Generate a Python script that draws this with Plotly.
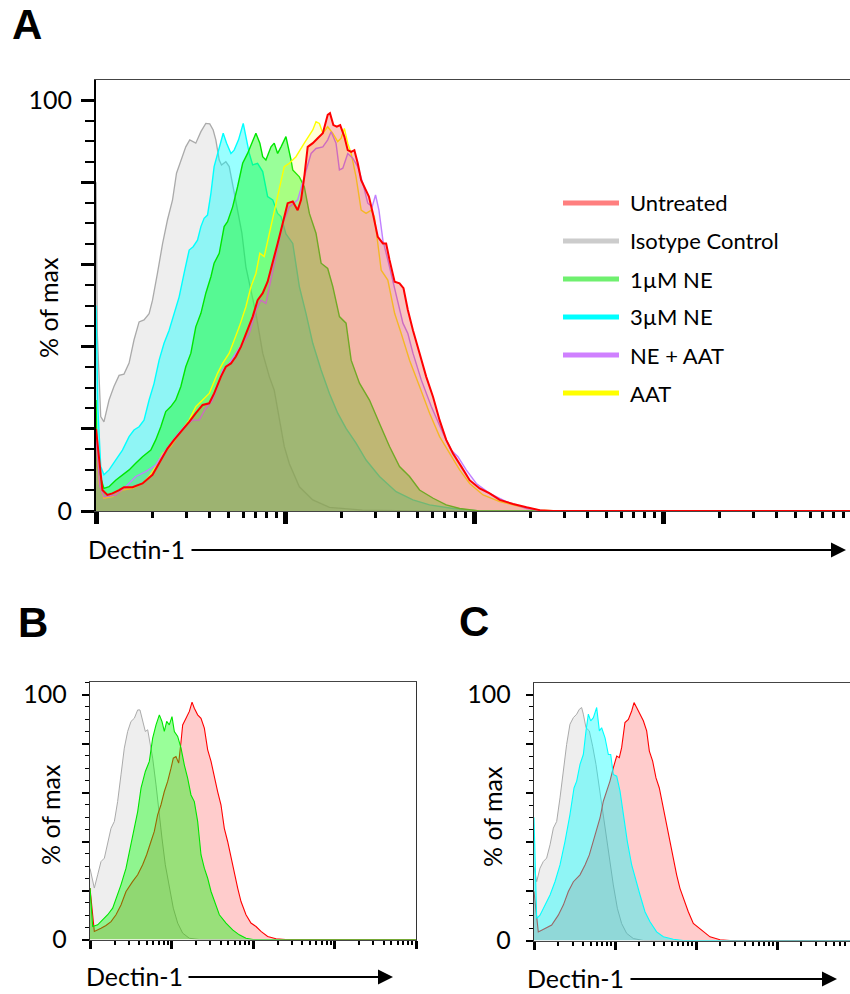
import numpy as np
import plotly.graph_objects as go

W, H = 850, 994
FONT = "Lato"

# Histograms: (decades above 10^1, % of max)
A_ISOTYPE = [(0, 80), (0.007, 43), (0.025, 23), (0.042, 21.7), (0.069, 27), (0.095, 30.3), (0.122, 33), (0.148, 33.3),
             (0.175, 36), (0.201, 41.6), (0.228, 46), (0.254, 46.5), (0.281, 48), (0.299, 51.3), (0.325, 57.8),
             (0.352, 65), (0.378, 70.8), (0.405, 75.7), (0.426, 82.2), (0.449, 85.4), (0.475, 88.6), (0.496, 90.3),
             (0.528, 89.5), (0.555, 92.3), (0.581, 94.3), (0.602, 94.2), (0.620, 92.7), (0.634, 90.3), (0.652, 85.4),
             (0.664, 84.2), (0.687, 85), (0.705, 83.8), (0.726, 78.9), (0.749, 73.2), (0.772, 67.6), (0.793, 59.4),
             (0.814, 54.6), (0.846, 48.1), (0.882, 38.4), (0.917, 32.7), (0.943, 29.4), (0.970, 22.1), (0.996, 15.7),
             (1.023, 11.5), (1.076, 5.9), (1.147, 2.7), (1.235, 0.9), (1.41, 0.2), (1.68, 0), (4, 0)]
A_NE3 = [(0, 50), (0.01, 25), (0.025, 10.8), (0.042, 8.8), (0.069, 10), (0.104, 12.4), (0.140, 14.8), (0.175, 18.1),
         (0.201, 19.7), (0.228, 20.5), (0.254, 22.1), (0.281, 27), (0.307, 31), (0.334, 36.7), (0.360, 40.8),
         (0.387, 44), (0.413, 48.1), (0.440, 52.1), (0.466, 57.8), (0.493, 63.5), (0.514, 64.3), (0.537, 65.9),
         (0.555, 69.2), (0.572, 71.2), (0.590, 72), (0.608, 77.3), (0.625, 83.8), (0.652, 88.6), (0.673, 91.9),
         (0.691, 89.5), (0.714, 87), (0.731, 87.8), (0.754, 90.3), (0.779, 94.3), (0.793, 91.1), (0.811, 87),
         (0.829, 84.2), (0.855, 84.6), (0.882, 82.6), (0.908, 76.5), (0.935, 75.7), (0.961, 72.4), (0.979, 71.6),
         (1.005, 67.4), (1.041, 65.1), (1.076, 54.6), (1.111, 48.1), (1.147, 40.8), (1.191, 34.3), (1.235, 28.6),
         (1.279, 23.8), (1.323, 20.1), (1.376, 16.5), (1.429, 12.4), (1.500, 8.4), (1.588, 4.7), (1.677, 2.7),
         (1.765, 1.5), (1.889, 0.6), (2.03, 0), (4, 0)]
A_NE1 = [(0, 27), (0.007, 10.8), (0.042, 5.5), (0.069, 5.9), (0.104, 7.5), (0.140, 8.8), (0.175, 10), (0.210, 11.6),
         (0.246, 13.2), (0.290, 14.8), (0.316, 17.3), (0.343, 20.5), (0.369, 24.2), (0.396, 25.4), (0.422, 27),
         (0.449, 30.3), (0.475, 35.1), (0.502, 38.4), (0.528, 44.8), (0.555, 48.1), (0.581, 53), (0.608, 57),
         (0.625, 60.3), (0.652, 62.7), (0.678, 69.2), (0.696, 70.4), (0.723, 74), (0.749, 78.9), (0.776, 84.6),
         (0.802, 87), (0.829, 89.9), (0.846, 91.9), (0.867, 89.5), (0.882, 86.2), (0.899, 85.4), (0.926, 88.6),
         (0.943, 89.5), (0.961, 87), (0.979, 88.6), (1.005, 91.1), (1.032, 85.4), (1.041, 83), (1.076, 81.3),
         (1.102, 78.9), (1.129, 72.4), (1.164, 67.6), (1.191, 60.3), (1.226, 59), (1.253, 54.6), (1.288, 47.3),
         (1.323, 45.7), (1.350, 36.7), (1.394, 31.1), (1.447, 27), (1.500, 21.3), (1.553, 15.7), (1.606, 10.8),
         (1.659, 8.4), (1.712, 5.1), (1.784, 3.1), (1.853, 1.5), (1.924, 0.6), (2.03, 0), (4, 0)]
A_AAT = [(0, 20), (0.016, 6.7), (0.042, 3.1), (0.087, 3.5), (0.140, 5.1), (0.193, 5.5), (0.246, 6.7), (0.281, 8.4),
         (0.316, 10.8), (0.352, 14), (0.396, 15.7), (0.440, 18.9), (0.493, 22.1), (0.528, 25.4), (0.564, 27),
         (0.599, 28.6), (0.643, 33.5), (0.670, 35.9), (0.705, 38.4), (0.731, 41.6), (0.758, 44.8), (0.793, 49.7),
         (0.820, 54.6), (0.846, 57.8), (0.867, 62.7), (0.890, 61.9), (0.917, 67.6), (0.943, 72.4), (0.970, 78.1),
         (0.996, 83.8), (1.023, 84.6), (1.058, 86.2), (1.102, 89.5), (1.147, 92.7), (1.164, 94.7), (1.182, 94.3),
         (1.200, 91.9), (1.226, 93.5), (1.253, 91.9), (1.279, 89.9), (1.297, 90.7), (1.314, 93.1), (1.332, 89.5),
         (1.350, 87), (1.376, 81.3), (1.403, 73.2), (1.429, 72.4), (1.456, 73.2), (1.473, 71.6), (1.491, 64.3),
         (1.509, 58.6), (1.544, 56.2), (1.580, 48.1), (1.615, 43.2), (1.659, 36.7), (1.712, 30.3), (1.765, 23.8),
         (1.818, 18.1), (1.871, 14), (1.924, 10), (1.977, 6.7), (2.048, 3.9), (2.136, 2.3), (2.242, 1.1),
         (2.348, 0.2), (2.45, 0), (4, 0)]
A_NE_AAT = [(0, 18), (0.02, 6), (0.042, 3.5), (0.104, 3.9), (0.157, 5.9), (0.210, 8.4), (0.263, 9.6), (0.316, 11.2),
            (0.369, 14.8), (0.422, 18.1), (0.466, 20.5), (0.511, 22.1), (0.546, 22.1), (0.581, 25), (0.617, 27),
            (0.643, 30.3), (0.670, 34.3), (0.705, 35.9), (0.740, 38.4), (0.776, 40.8), (0.811, 43.2), (0.846, 48.9),
            (0.873, 51.3), (0.899, 50.5), (0.926, 56.2), (0.961, 63.5), (0.988, 70), (1.023, 74), (1.067, 75.7),
            (1.102, 81.3), (1.138, 87), (1.164, 88.2), (1.200, 88.6), (1.226, 90.3), (1.244, 92.3), (1.270, 89.5),
            (1.288, 83), (1.306, 83.4), (1.332, 87), (1.359, 85.8), (1.385, 83.8), (1.412, 79.7), (1.438, 74.9),
            (1.461, 74), (1.479, 76.9), (1.497, 73.2), (1.518, 65.9), (1.544, 61.1), (1.571, 55.8), (1.597, 51.3),
            (1.624, 45.7), (1.650, 43.2), (1.677, 38.4), (1.721, 31.9), (1.774, 25.4), (1.836, 18.9), (1.880, 14.8),
            (1.915, 13.2), (1.959, 10), (2.012, 6.7), (2.083, 4.3), (2.171, 2.3), (2.278, 0.6), (2.38, 0), (4, 0)]
A_UNTREATED = [(0, 20), (0.034, 5.1), (0.060, 3.9), (0.087, 4.3), (0.122, 5.1), (0.148, 5.8), (0.193, 5.8),
               (0.246, 6.7), (0.299, 8.8), (0.334, 11.6), (0.378, 15.2), (0.413, 17.3), (0.458, 19.7), (0.493, 21.7),
               (0.528, 23.8), (0.564, 25.8), (0.599, 26.2), (0.625, 28.6), (0.661, 32.7), (0.687, 35.1),
               (0.714, 35.9), (0.740, 37.6), (0.767, 40), (0.793, 43.2), (0.829, 47.3), (0.855, 51.3), (0.882, 53),
               (0.908, 55.8), (0.935, 60.3), (0.961, 65.1), (0.988, 70), (1.014, 74.9), (1.041, 75.3), (1.067, 73.2),
               (1.085, 75.7), (1.102, 81.3), (1.120, 88.6), (1.147, 89.5), (1.173, 90.7), (1.200, 91.9),
               (1.226, 96.4), (1.238, 96.8), (1.256, 93.9), (1.274, 93.5), (1.292, 93.9), (1.314, 91.1),
               (1.332, 87.8), (1.350, 87.4), (1.367, 87.8), (1.385, 84.6), (1.403, 80.5), (1.426, 78.1),
               (1.444, 76.5), (1.465, 72.4), (1.491, 66.7), (1.518, 65.1), (1.535, 65.1), (1.553, 61.1),
               (1.580, 55.8), (1.606, 55.4), (1.627, 54.2), (1.650, 48.9), (1.677, 44), (1.712, 38.4), (1.747, 32.7),
               (1.783, 27.8), (1.818, 22.1), (1.853, 17.3), (1.889, 14), (1.933, 10.8), (1.977, 7.5), (2.030, 5.5),
               (2.083, 4.3), (2.136, 2.7), (2.207, 1.7), (2.278, 0.9), (2.348, 0.2), (2.42, 0), (4, 0)]

B_ISOTYPE = [(0, 29), (0.053, 21), (0.094, 26.4), (0.135, 31.8), (0.176, 33.2), (0.217, 40), (0.258, 45.4),
             (0.299, 48.2), (0.339, 56.3), (0.380, 67.2), (0.421, 78.1), (0.462, 84.9), (0.503, 89), (0.544, 90.3),
             (0.585, 93.7), (0.613, 93.7), (0.646, 89), (0.679, 84.9), (0.708, 85.6), (0.736, 80.8), (0.769, 74),
             (0.810, 63.1), (0.843, 52.2), (0.883, 41.4), (0.924, 30.5), (0.973, 21), (1.022, 12.8), (1.076, 6.7),
             (1.137, 2.6), (1.219, 0.5), (1.34, 0), (4, 0)]
B_NE1 = [(0, 21), (0.033, 5.3), (0.094, 6), (0.155, 8), (0.217, 10.1), (0.278, 12.8), (0.339, 18.2), (0.380, 22.3),
         (0.442, 29.1), (0.503, 38.6), (0.544, 45.4), (0.585, 52.2), (0.626, 61.8), (0.679, 68.6), (0.728, 72.7),
         (0.769, 82.2), (0.810, 87.6), (0.851, 91.7), (0.883, 89), (0.912, 84.9), (0.941, 89), (0.973, 87.6),
         (1.006, 91), (1.035, 84.9), (1.076, 82.9), (1.117, 78.1), (1.157, 71.3), (1.198, 65.9), (1.239, 59),
         (1.280, 56.3), (1.321, 48.2), (1.362, 34.6), (1.403, 29.1), (1.444, 25), (1.485, 19.6), (1.526, 15.5),
         (1.587, 10.1), (1.669, 6.7), (1.750, 3.9), (1.832, 1.9), (1.914, 0.5), (2.0, 0), (4, 0)]
B_UNTREATED = [(0, 21), (0.053, 3.3), (0.135, 4.6), (0.196, 5.7), (0.258, 7.3), (0.319, 10.1), (0.380, 14.1),
               (0.442, 19.6), (0.524, 23.7), (0.585, 26.4), (0.646, 30.5), (0.695, 34.6), (0.748, 40), (0.789, 44.1),
               (0.830, 50.9), (0.871, 55), (0.912, 60.4), (0.953, 64.5), (0.994, 69.9), (1.022, 74), (1.055, 74.7),
               (1.088, 72), (1.117, 80.8), (1.137, 87.6), (1.178, 90.3), (1.219, 93.1), (1.252, 96.9), (1.280, 94.4),
               (1.321, 91.7), (1.362, 90.3), (1.403, 86.3), (1.444, 77.4), (1.485, 72.7), (1.526, 65.9),
               (1.566, 60.4), (1.607, 55), (1.648, 45.4), (1.689, 40), (1.730, 33.2), (1.771, 26.4), (1.812, 21),
               (1.853, 15.5), (1.914, 10.1), (1.975, 6.7), (2.037, 5.3), (2.098, 3.3), (2.180, 1.2), (2.282, 0.3),
               (2.4, 0), (4, 0)]

C_ISOTYPE = [(0, 30), (0.033, 23.9), (0.074, 29.4), (0.115, 32.1), (0.156, 33.5), (0.198, 38.9), (0.239, 45.7),
             (0.280, 48.4), (0.321, 58), (0.362, 68.8), (0.403, 79.7), (0.444, 87.9), (0.486, 90.6), (0.527, 92),
             (0.560, 94), (0.588, 94.7), (0.609, 92), (0.642, 86.5), (0.683, 85.2), (0.724, 79), (0.765, 71.6),
             (0.807, 62), (0.848, 52.5), (0.889, 43), (0.930, 33.5), (0.979, 22.6), (1.029, 13.1), (1.082, 6.9),
             (1.144, 2.9), (1.226, 0.8), (1.35, 0), (4, 0)]
C_NE3 = [(0, 50), (0.033, 9), (0.074, 10.3), (0.136, 14.4), (0.198, 18.5), (0.259, 23.9), (0.321, 30.7),
         (0.383, 40.3), (0.444, 51.2), (0.494, 62), (0.527, 64.8), (0.568, 71.6), (0.609, 75.6), (0.642, 85.2),
         (0.671, 92), (0.700, 89.3), (0.733, 90.6), (0.774, 94.7), (0.807, 85.2), (0.835, 86.5), (0.877, 82.4),
         (0.918, 75.6), (0.947, 75.6), (0.979, 67.5), (1.021, 66.8), (1.062, 60.7), (1.103, 51.2), (1.152, 40.3),
         (1.206, 30.7), (1.259, 23.9), (1.309, 18.5), (1.370, 11.7), (1.432, 7.6), (1.514, 3.5), (1.597, 1.5),
         (1.72, 0.5), (1.84, 0), (4, 0)]
C_UNTREATED = [(0, 20), (0.053, 3.5), (0.136, 4.9), (0.218, 6.3), (0.300, 10.3), (0.362, 14.4), (0.424, 19.9),
               (0.486, 23.9), (0.568, 26.7), (0.630, 30.7), (0.683, 34.8), (0.733, 40.3), (0.774, 44.4),
               (0.815, 49.8), (0.856, 56.6), (0.897, 60.7), (0.938, 64.8), (0.979, 70.2), (1.021, 75), (1.053, 74.3),
               (1.082, 78.4), (1.123, 88.6), (1.165, 89.9), (1.206, 93.3), (1.235, 96.7), (1.267, 94.7),
               (1.309, 92), (1.350, 89.3), (1.391, 85.2), (1.424, 77), (1.465, 72.9), (1.506, 66.1), (1.547, 62),
               (1.588, 55.2), (1.630, 47.1), (1.679, 40.3), (1.720, 33.5), (1.761, 26.7), (1.802, 21.2),
               (1.844, 17.1), (1.905, 11.7), (1.967, 6.9), (2.029, 5.2), (2.091, 3.5), (2.173, 1.5), (2.296, 0.3),
               (2.42, 0), (4, 0)]

LEGEND_LABELS = ["Untreated", "Isotype Control", "1\u00b5M NE", "3\u00b5M NE", "NE + AAT", "AAT"]
LEGEND_COLORS = ["#FF7F7F", "#CCCCCC", "#6FF06F", "#00FFFF", "#CF80FF", "#FFFF00"]
PANEL_LETTERS = ["A", "B", "C"]
Y_TICKS = [0, 20, 40, 60, 80, 100]
Y_TICKTEXT = ["0", "", "", "", "", "100"]
LOG_START = 1  # histograms start at 10^1

# Series styling: line colour, fill colour
STYLE = {
    "iso": ("#AAAAAA", "rgba(170,170,170,0.20)"),
    "ne3": ("#00FFFF", "rgba(0,255,255,0.40)"),
    "ne1": ("#00E600", "rgba(0,255,0,0.40)"),
    "aat": ("#FFFF00", "rgba(255,255,0,0.15)"),
    "neaat": ("#C080FF", "rgba(200,120,255,0.15)"),
    "untr": ("#FF0000", "rgba(237,54,38,0.29)"),
    "untr_small": ("#FF0000", "rgba(255,0,0,0.20)"),
}


def px_x(px):
    return px / W


def px_y(py):
    return 1 - py / H


fig = go.Figure()


def add_hist(pairs, xa, ya, style, width):
    dec = np.array([p[0] for p in pairs], dtype=float)
    pct = [p[1] for p in pairs]
    line_c, fill_c = STYLE[style]
    fig.add_trace(go.Scatter(
        x=10 ** (LOG_START + dec), y=pct, mode="lines",
        line=dict(color=line_c, width=width),
        fill="tozeroy", fillcolor=fill_c,
        xaxis=xa, yaxis=ya, showlegend=False, hoverinfo="skip"))


# Panel A (drawn bottom to top)
add_hist(A_ISOTYPE, "x", "y", "iso", 1.3)
add_hist(A_NE3, "x", "y", "ne3", 1.4)
add_hist(A_NE1, "x", "y", "ne1", 1.4)
add_hist(A_AAT, "x", "y", "aat", 1.4)
add_hist(A_NE_AAT, "x", "y", "neaat", 1.4)
add_hist(A_UNTREATED, "x", "y", "untr", 2.0)
# Panel B
add_hist(B_ISOTYPE, "x2", "y2", "iso", 1.0)
add_hist(B_UNTREATED, "x2", "y2", "untr_small", 1.1)
add_hist(B_NE1, "x2", "y2", "ne1", 1.1)
# Panel C
add_hist(C_ISOTYPE, "x3", "y3", "iso", 1.0)
add_hist(C_UNTREATED, "x3", "y3", "untr_small", 1.1)
add_hist(C_NE3, "x3", "y3", "ne3", 1.1)

major_x = [10 ** k for k in range(1, 6)]
minor_x = [m * 10 ** k for k in range(1, 5) for m in range(2, 10)]


def x_axis(anchor, domain, rng, big, mirror):
    return dict(
        anchor=anchor, type="log", domain=domain, range=rng, showgrid=False, zeroline=False,
        showline=True, linecolor="#444444", linewidth=1, mirror=mirror,
        ticks="outside", tickvals=major_x, ticklen=12 if big else 8,
        tickwidth=5 if big else 3, tickcolor="black", showticklabels=False,
        minor=dict(tickmode="array", tickvals=minor_x, ticks="outside",
                   ticklen=6 if big else 4, tickwidth=2.5 if big else 1.5, tickcolor="black"),
        layer="below traces", fixedrange=True)


def y_axis(anchor, domain, rng, big, mirror):
    return dict(
        anchor=anchor, domain=domain, range=rng, showgrid=False, zeroline=False,
        showline=True, linecolor="black" if big else "#333333", linewidth=2 if big else 1.3,
        mirror=mirror, ticks="outside", tickvals=Y_TICKS, ticktext=Y_TICKTEXT,
        ticklen=13 if big else 7, tickwidth=3 if big else 2, tickcolor="black",
        tickfont=dict(family=FONT, size=25, color="black"),
        ticklabelstandoff=4 if big else 10,
        minor=dict(dtick=5, ticks="outside", ticklen=9 if big else 4,
                   tickwidth=1.5 if big else 1.2, tickcolor="black"),
        layer="below traces", fixedrange=True)


A_LEFT, A_BOTTOM, A_TOP, A_DEC = 96, 511, 80, 189.0
B_LEFT, B_RIGHT, B_BOTTOM, B_TOP = 90, 416, 939.5, 682
C_LEFT, C_BOTTOM, C_TOP, C_DEC = 534, 940.5, 682.5, 81.0

fig.update_layout(
    width=W, height=H, margin=dict(l=0, r=0, t=0, b=0, autoexpand=False),
    paper_bgcolor="white", plot_bgcolor="white", showlegend=False,
    xaxis=x_axis("y", [px_x(A_LEFT), 1], [LOG_START, LOG_START + (W - A_LEFT) / A_DEC], True, True),
    yaxis=y_axis("x", [px_y(A_BOTTOM), px_y(A_TOP)], [0, (A_BOTTOM - A_TOP) / 4.11], True, False),
    xaxis2=x_axis("y2", [px_x(B_LEFT), px_x(B_RIGHT)], [LOG_START, LOG_START + 4], False, True),
    yaxis2=y_axis("x2", [px_y(B_BOTTOM), px_y(B_TOP)], [0, (B_BOTTOM - B_TOP) / 2.45], False, True),
    xaxis3=x_axis("y3", [px_x(C_LEFT), 1], [LOG_START, LOG_START + (W - C_LEFT) / C_DEC], False, True),
    yaxis3=y_axis("x3", [px_y(C_BOTTOM), px_y(C_TOP)], [0, (C_BOTTOM - C_TOP) / 2.46], False, False),
)

ann = []
# Panel letters
for letter, (lx, ly) in zip(PANEL_LETTERS, [(10, 24), (16, 622), (457, 621)]):
    ann.append(dict(text=f"<b>{letter}</b>", x=px_x(lx), y=px_y(ly), xref="paper", yref="paper",
                    xanchor="left", yanchor="middle", showarrow=False,
                    font=dict(family="Liberation Sans", size=42, color="black")))
# y titles
for (tx, ty) in [(48, 308), (50, 815), (492, 817)]:
    ann.append(dict(text="% of max", x=px_x(tx), y=px_y(ty), xref="paper", yref="paper",
                    textangle=-90, xanchor="center", yanchor="middle", showarrow=False,
                    font=dict(family=FONT, size=25, color="black")))
# x titles with arrows
for (tx, ty, a0, a1) in [(86, 549, 190, 846), (84, 976, 187, 393), (525, 978, 629, 837)]:
    ann.append(dict(text="Dectin-1", x=px_x(tx), y=px_y(ty), xref="paper", yref="paper",
                    xanchor="left", yanchor="middle", showarrow=False,
                    font=dict(family=FONT, size=25, color="black")))
    ann.append(dict(text="", x=px_x(a1), y=px_y(ty + 1), xref="paper", yref="paper",
                    ax=-(a1 - a0), ay=0, showarrow=True, arrowhead=2, arrowsize=1.5,
                    arrowwidth=2, arrowcolor="black"))

# Legend for panel A
LEG_X0, LEG_X1, LEG_TX, LEG_Y0, LEG_DY = 563, 619, 628, 203, 38
shapes = []
for i, (lab, col) in enumerate(zip(LEGEND_LABELS, LEGEND_COLORS)):
    yy = LEG_Y0 + i * LEG_DY
    shapes.append(dict(type="line", xref="paper", yref="paper", x0=px_x(LEG_X0), x1=px_x(LEG_X1),
                       y0=px_y(yy), y1=px_y(yy), line=dict(color=col, width=5)))
    ann.append(dict(text=lab, x=px_x(LEG_TX), y=px_y(yy), xref="paper", yref="paper",
                    xanchor="left", yanchor="middle", showarrow=False,
                    font=dict(family=FONT, size=22, color="black")))

fig.update_layout(annotations=ann, shapes=shapes)
fig.write_html("out.html")
